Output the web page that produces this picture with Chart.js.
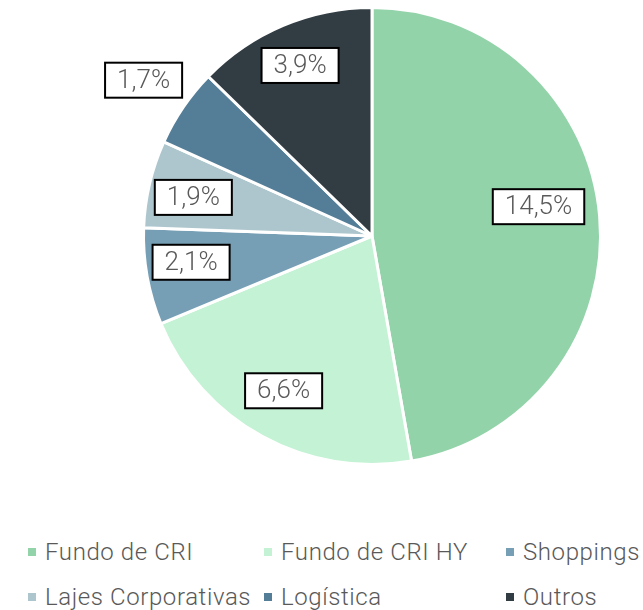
<!DOCTYPE html>
<html>
<head>
<meta charset="utf-8">
<script src="https://cdn.jsdelivr.net/npm/chart.js@4"></script>
<style>
  body { margin: 0; background: #fff; font-family: Roboto, "Noto Sans", sans-serif; }
  #wrap { position: relative; width: 643px; height: 610px; overflow: hidden; }
  #box { position: absolute; left: 0; top: 0; width: 643px; height: 480px; }
  #legend {
    position: absolute; left: 28px; top: 535px;
    display: grid; grid-template-columns: 236px 242px auto;
    row-gap: 12px; color: #595959; font-size: 24px; font-weight: 300; letter-spacing: 0.6px;
  }
  .item { display: flex; align-items: center; white-space: nowrap; height: 33px; }
  .sq { width: 8px; height: 8px; margin-right: 9px; }
</style>
</head>
<body>
<div id="wrap">
  <div id="box"><canvas id="chart"></canvas></div>
  <div id="legend"></div>
</div>
<script>
// -> Daten
const categories = ["Fundo de CRI", "Fundo de CRI HY", "Shoppings", "Lajes Corporativas", "Logística", "Outros"];
const values = [14.5, 6.6, 2.1, 1.9, 1.7, 3.9];
const valueLabels = ["14,5%", "6,6%", "2,1%", "1,9%", "1,7%", "3,9%"];
const colors = ["#93d3aa", "#c3f2d4", "#769fb5", "#adc6cd", "#547e98", "#313c43"];

// -> Labels mit Kasten (kein datalabels plugin verfügbar)
const boxLabels = {
  id: "boxLabels",
  afterDatasetsDraw(chart, args, opts) {
    const ctx = chart.ctx;
    const meta = chart.getDatasetMeta(0);
    ctx.save();
    ctx.font = opts.font;
    ctx.textAlign = "center";
    ctx.textBaseline = "middle";
    meta.data.forEach((arc, i) => {
      const p = arc.getProps(["x", "y", "startAngle", "endAngle", "outerRadius"], true);
      const mid = (p.startAngle + p.endAngle) / 2 + opts.angleShift[i] * Math.PI / 180;
      const r = p.outerRadius * opts.radius[i];
      const x = p.x + Math.cos(mid) * r;
      const y = p.y + Math.sin(mid) * r;
      const text = valueLabels[i];
      const w = ctx.measureText(text).width + 24;
      const h = 35;
      ctx.fillStyle = "#fff";
      ctx.fillRect(x - w / 2, y - h / 2, w, h);
      ctx.lineWidth = 2;
      ctx.strokeStyle = "#000";
      ctx.strokeRect(x - w / 2, y - h / 2, w, h);
      ctx.fillStyle = "#595959";
      ctx.fillText(text, x, y + 1);
    });
    ctx.restore();
  }
};

const chart = new Chart(document.querySelector("#chart"), {
  type: "pie",
  data: {
    labels: categories,
    datasets: [{
      data: values,
      backgroundColor: colors,
      borderColor: "#fff",
      borderWidth: 3
    }]
  },
  options: {
    responsive: true,
    maintainAspectRatio: false,
    animation: false,
    layout: { padding: { left: 142, right: 41, top: 6, bottom: 14 } },
    plugins: {
      legend: { display: false },
      tooltip: { enabled: false },
      boxLabels: {
        font: "300 26px Roboto",
        radius: [0.74, 0.78, 0.8, 0.8, 1.21, 0.81],
        angleShift: [-5, 1, 2, -1, 0, 0]
      }
    }
  },
  plugins: [boxLabels]
});

// -> Legende als Raster (3 Spalten)
const legend = document.querySelector("#legend");
categories.forEach((name, i) => {
  legend.innerHTML += `<div class="item"><span class="sq" style="background:${colors[i]}"></span>${name}</div>`;
});
</script>
</body>
</html>
